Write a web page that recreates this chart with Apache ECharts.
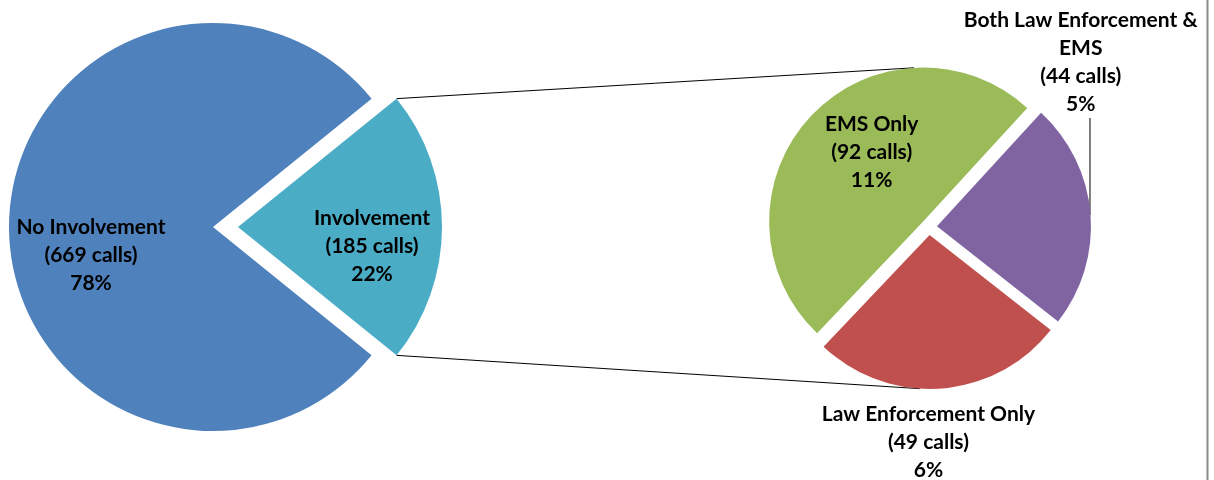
<!DOCTYPE html>
<html><head><meta charset="utf-8">
<script src="https://cdn.jsdelivr.net/npm/echarts@6/dist/echarts.min.js"></script>
<style>html,body{margin:0;padding:0;background:#fff}#c{width:1214px;height:480px}</style>
</head><body><div id="c"></div>
<script>
// ---- data ----
const mainNames = ['Involvement', 'No Involvement'];
const mainValues = [185, 669];
const subNames = ['EMS Only', 'Both Law Enforcement &\nEMS', 'Law Enforcement Only'];
const subValues = [92, 44, 49];

// ---- styles / layout ----
const mainColors = ['#4BACC6', '#4F81BD'];
const subColors = ['#9BBB59', '#8064A2', '#C0504D'];
const mainLabelOffsets = [[29, 19], [-17, 28]];
const subLabelOffsets = [[7, -15], [64, -158], [-7, 127]];
const C1 = [213, 227], R1 = 204, OFF1 = 25;
const C2 = [929, 227], R2 = 154, OFF2 = 8;
const START2 = 226.5;
const FONT = 'Lato';

const total = mainValues.reduce((a, b) => a + b, 0);
const subTotal = subValues.reduce((a, b) => a + b, 0);
const START1 = mainValues[0] / total * 180;

const fmt = p => p.name + '\n(' + p.value + ' calls)\n' + Math.round(p.value / total * 100) + '%';
const labelBase = {
  show: true, position: 'inside', formatter: fmt, color: '#000',
  fontFamily: FONT, fontWeight: 'bold', fontSize: 21, lineHeight: 28, align: 'center'
};

const rad = d => d * Math.PI / 180;
const polar = (c, r, deg) => [c[0] + r * Math.cos(rad(deg)), c[1] - r * Math.sin(rad(deg))];

// geometry for connector lines
const half1 = mainValues[0] / total * 180;
const mid1 = START1 - half1;
const E1 = polar(C1, OFF1, mid1);
const cornerTop = polar(E1, R1, START1);
const cornerBot = polar(E1, R1, START1 - 2 * half1);

const subSlices = [];
let acc = START2;
subValues.forEach((v, i) => {
  const span = v / subTotal * 360;
  const a0 = acc, a1 = acc - span, mid = (a0 + a1) / 2;
  subSlices.push({ a0, a1, mid, c: polar(C2, OFF2, mid) });
  acc = a1;
});
function sliceAt(deg) {
  for (const s of subSlices) {
    for (const k of [-360, 0, 360]) {
      const d = deg + k;
      if (d <= s.a0 && d >= s.a1) return s;
    }
  }
  return subSlices[0];
}
function tangent(P, C, r, upper) {
  const vx = P[0] - C[0], vy = P[1] - C[1];
  const d = Math.hypot(vx, vy), th = Math.atan2(vy, vx), a = Math.acos(r / d);
  const t1 = [C[0] + r * Math.cos(th + a), C[1] + r * Math.sin(th + a)];
  const t2 = [C[0] + r * Math.cos(th - a), C[1] + r * Math.sin(th - a)];
  return upper ? (t1[1] < t2[1] ? t1 : t2) : (t1[1] > t2[1] ? t1 : t2);
}
const topSlice = sliceAt(90), botSlice = sliceAt(270);
const tTop = tangent(cornerTop, topSlice.c, R2, true);
const tBot = tangent(cornerBot, botSlice.c, R2, false);
const purple = subSlices[1];
const leaderX = purple.c[0] + R2 - 1;

const chart = echarts.init(document.getElementById('c'), null, { renderer: 'canvas' });
chart.setOption({
  animation: false,
  backgroundColor: '#fff',
  series: [
    {
      type: 'pie', center: C1, radius: R1, startAngle: START1, clockwise: true,
      selectedMode: 'single', selectedOffset: OFF1, avoidLabelOverlap: false,
      emphasis: { disabled: true }, labelLine: { show: false },
      label: labelBase,
      data: mainValues.map((v, i) => ({
        name: mainNames[i], value: v, selected: i === 0,
        itemStyle: { color: mainColors[i] },
        label: { offset: mainLabelOffsets[i] },
        select: { label: { offset: mainLabelOffsets[i] } }
      }))
    },
    {
      type: 'pie', center: C2, radius: R2, startAngle: START2, clockwise: true,
      selectedMode: 'multiple', selectedOffset: OFF2, avoidLabelOverlap: false,
      emphasis: { disabled: true }, labelLine: { show: false },
      label: labelBase,
      data: subValues.map((v, i) => ({
        name: subNames[i], value: v, selected: true,
        itemStyle: { color: subColors[i] },
        label: { offset: subLabelOffsets[i] },
        select: { label: { offset: subLabelOffsets[i] } }
      }))
    }
  ],
  graphic: [
    { type: 'line', shape: { x1: cornerTop[0], y1: cornerTop[1], x2: tTop[0], y2: tTop[1] }, style: { stroke: '#000', lineWidth: 1 }, silent: true },
    { type: 'line', shape: { x1: cornerBot[0], y1: cornerBot[1], x2: tBot[0], y2: tBot[1] }, style: { stroke: '#000', lineWidth: 1 }, silent: true },
    { type: 'line', shape: { x1: leaderX, y1: C2[1] - 109, x2: leaderX, y2: C2[1] - 12 }, style: { stroke: '#000', lineWidth: 1 }, silent: true },
    { type: 'line', shape: { x1: 1207.5, y1: 0, x2: 1207.5, y2: 480 }, style: { stroke: '#8a8a8a', lineWidth: 2 }, silent: true }
  ]
});
</script>
</body></html>
